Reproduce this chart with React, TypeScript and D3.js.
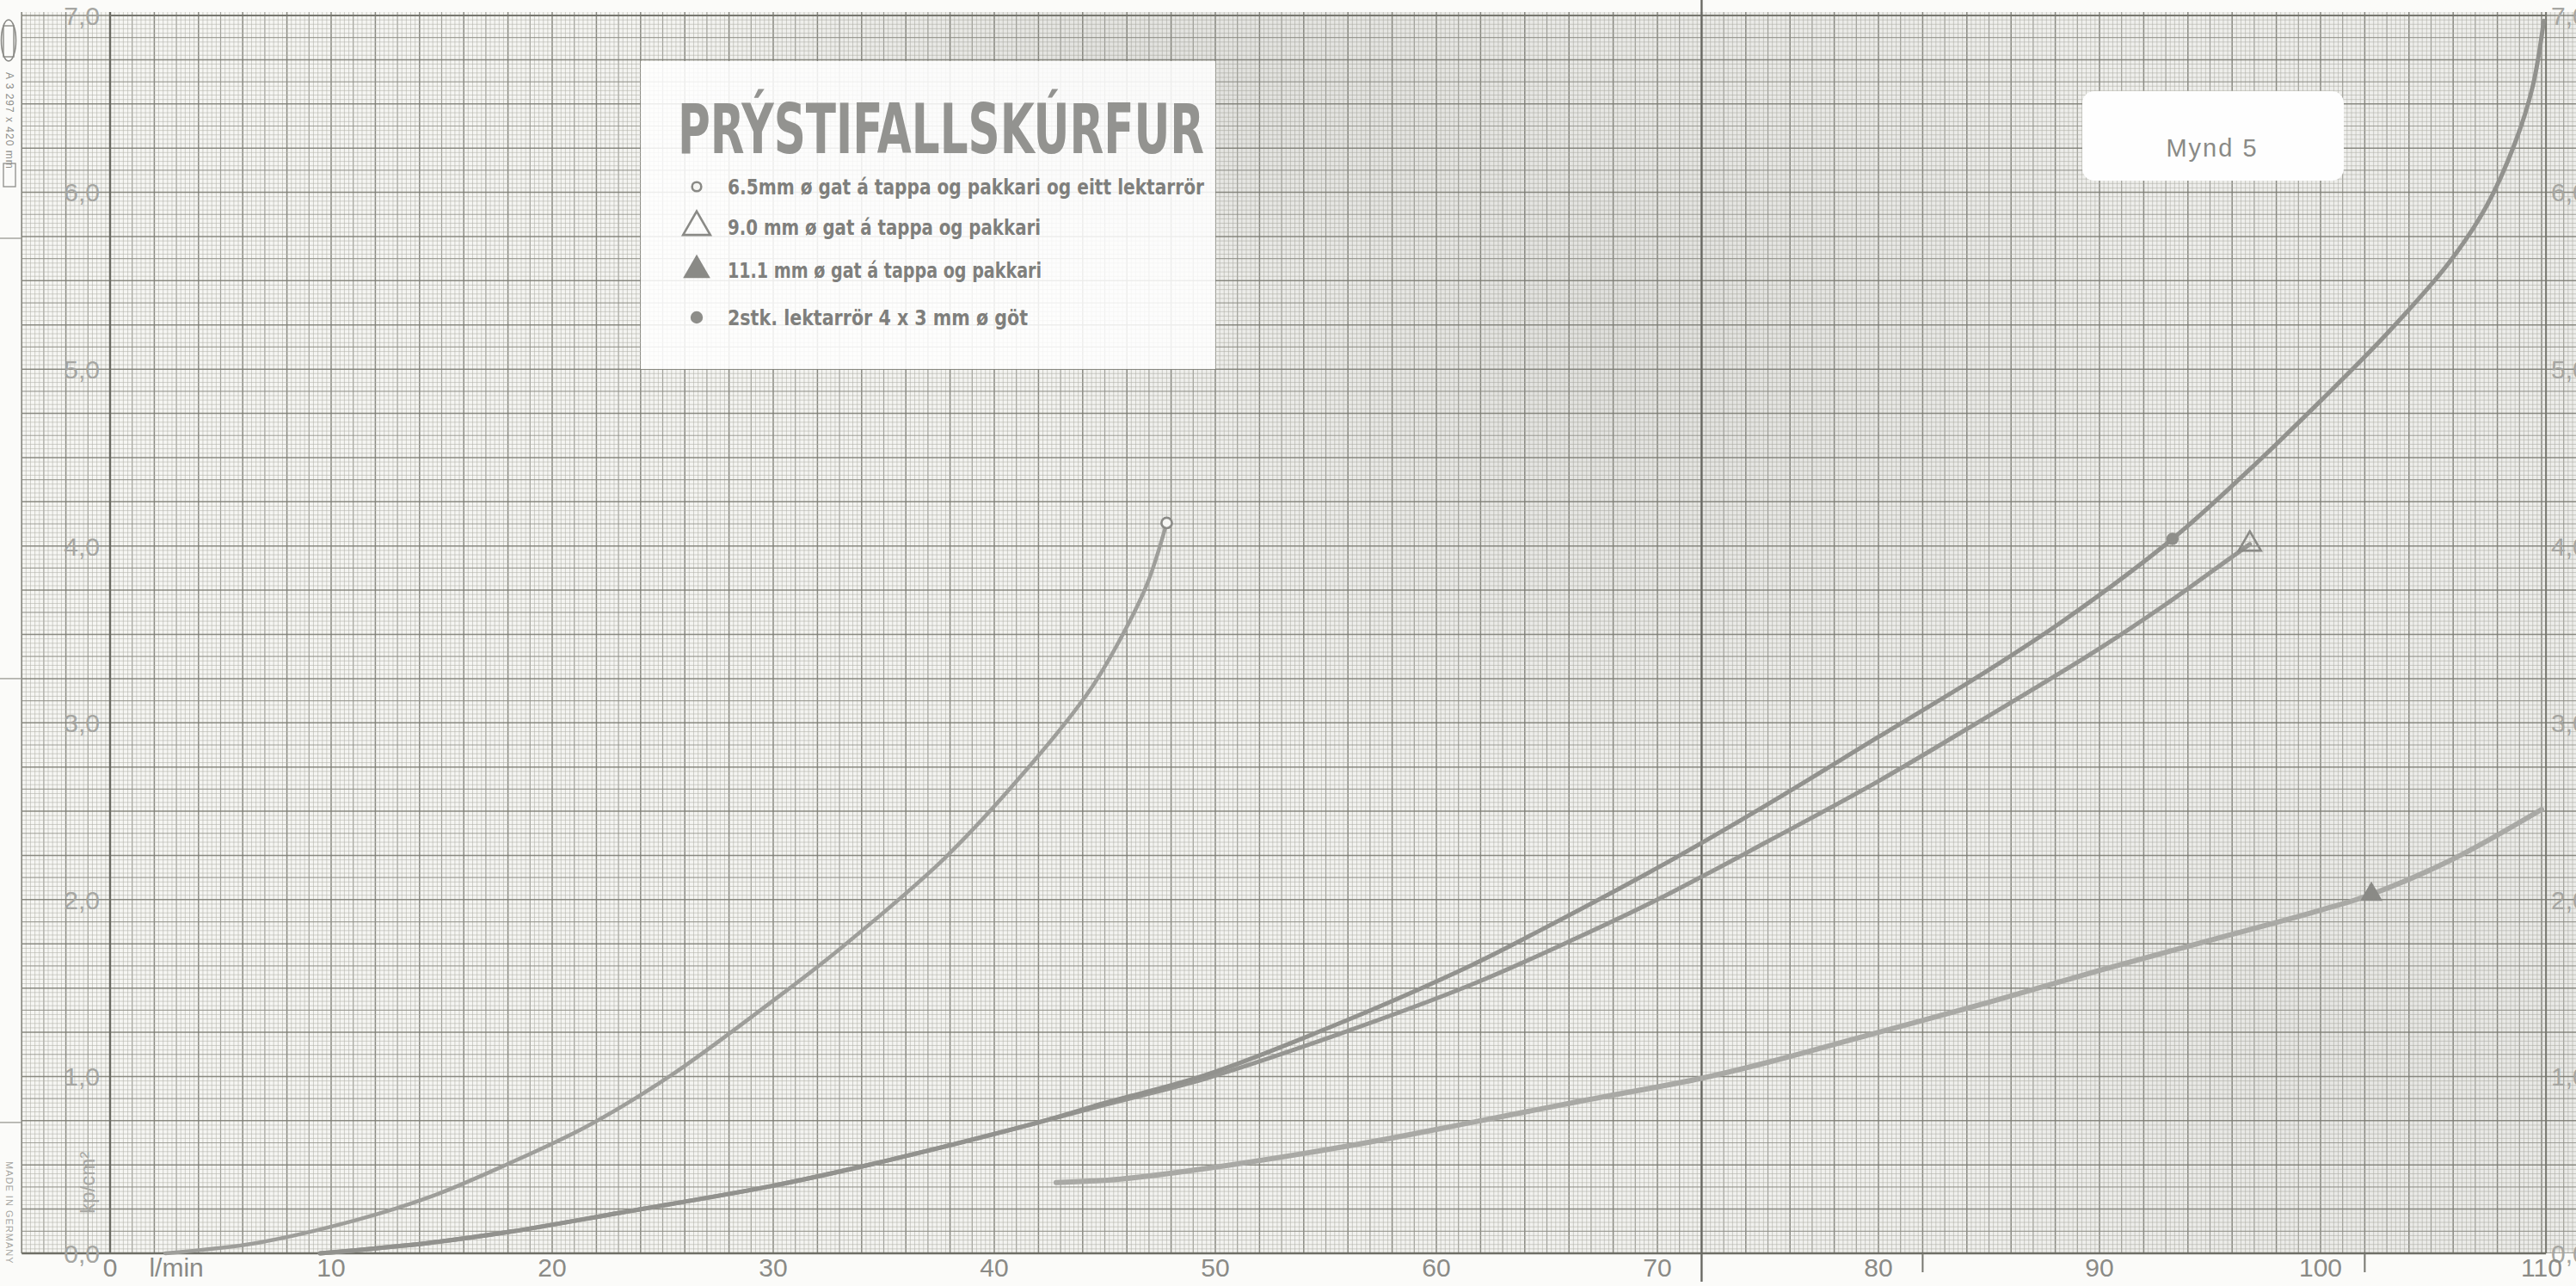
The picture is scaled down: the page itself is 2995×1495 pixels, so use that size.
import React from 'react';
import * as d3 from 'd3';

// ---------- data ----------
const xTickValues = [0, 10, 20, 30, 40, 50, 60, 70, 80, 90, 100, 110];
const xTickLabels = ['0', '10', '20', '30', '40', '50', '60', '70', '80', '90', '100', '110'];
const yTickValues = [0, 1, 2, 3, 4, 5, 6, 7];
const yTickLabels = ['0,0', '1,0', '2,0', '3,0', '4,0', '5,0', '6,0', '7,0'];
const xUnitLabel = 'l/min';
const yUnitLabel = 'kp/cm²';
const paperSeamX = 72;
const paperTicksX = [82, 102];
const marginMarksY = [0.74, 3.25, 5.74];

const title = 'PRÝSTIFALLSKÚRFUR';
const figureLabel = 'Mynd 5';
const legendLabels = [
  '6.5mm ø gat á tappa og pakkari og eitt lektarrör',
  '9.0 mm ø gat á tappa og pakkari',
  '11.1 mm ø gat á tappa  og pakkari',
  '2stk. lektarrör 4 x 3 mm ø göt',
];
const legendShapes = ['circleOpen', 'triangleOpen', 'triangleFilled', 'circleFilled'];

// 6.5 mm (open circle)
const curve65: [number, number][] = [
  [2.5, 0], [6.7, 0.06], [11.2, 0.19], [14.5, 0.32], [17.9, 0.5], [21.6, 0.72], [25.3, 1.0],
  [29.9, 1.42], [33, 1.72], [37.8, 2.24], [41.7, 2.77], [44.3, 3.18], [45.6, 3.45], [46.9, 3.78], [47.8, 4.13],
];
// 9.0 mm (open triangle)
const curve90: [number, number][] = [
  [9.5, 0], [14.5, 0.06], [18, 0.12], [23.1, 0.23], [29.9, 0.38], [35, 0.52], [41.7, 0.73], [45, 0.84],
  [49.6, 0.99], [55.6, 1.24], [61.6, 1.52], [66.3, 1.78], [70, 2.0], [75, 2.33], [80, 2.67], [85, 3.04],
  [90, 3.42], [93, 3.67], [95.9, 3.93], [96.8, 4.01],
];
// 11.1 mm (filled triangle)
const curve111: [number, number][] = [
  [42.8, 0.4], [45.7, 0.42], [50.7, 0.5], [56.6, 0.62], [61.6, 0.74], [66.5, 0.86], [72, 0.99], [75, 1.08],
  [80, 1.25], [85, 1.42], [90, 1.6], [95, 1.77], [100, 1.94], [102.3, 2.03], [106, 2.23], [110, 2.51],
];
// 2 stk. lektarrör (filled circle)
const curve2stk: [number, number][] = [
  [9.5, 0], [14.5, 0.06], [18, 0.12], [23.1, 0.23], [29.9, 0.38], [35, 0.52], [41.7, 0.73], [45, 0.85],
  [49.6, 1.01], [55.6, 1.3], [61.6, 1.63], [64.6, 1.82], [70, 2.18], [75, 2.54], [80, 2.92], [85, 3.3],
  [88.4, 3.58], [93.3, 4.04], [96.6, 4.41], [100, 4.82], [103, 5.2], [105.8, 5.6], [107.5, 5.92],
  [108.8, 6.28], [109.6, 6.6], [110.1, 6.97],
];
const markerPositions: [number, number][] = [[47.8, 4.13], [96.8, 4.01], [102.3, 2.03], [93.3, 4.04]];

// ---------- layout ----------
const W = 2995;
const H = 1495;
const x = d3.scaleLinear().domain([0, 110]).range([128, 2955]);
const y = d3.scaleLinear().domain([0, 7]).range([1457, 18]);

const PAPER = '#f6f6f3';

function marker(shape: string, cx: number, cy: number, s: number, key?: string) {
  if (shape === 'circleOpen')
    return <circle key={key} cx={cx} cy={cy} r={s * 0.38} fill="#f6f6f3" stroke="#8a8a86" strokeWidth={2.6} />;
  if (shape === 'circleFilled')
    return <circle key={key} cx={cx} cy={cy} r={s * 0.45} fill="#8e8e8a" />;
  const tri = d3.symbol().type(d3.symbolTriangle).size(s * s * 0.9)();
  if (shape === 'triangleOpen')
    return <path key={key} d={tri || ''} transform={`translate(${cx},${cy})`} fill="none" stroke="#8a8a86" strokeWidth={2.6} />;
  return <path key={key} d={tri || ''} transform={`translate(${cx},${cy})`} fill="#8a8a86" />;
}

export default function App() {
  // graph paper lines
  const vLines = d3.range(-20, 558).map((i) => ({ v: i * 0.2, k: i % 10 === 0 ? 2 : i % 5 === 0 ? 1 : 0 }));
  const hLines = d3.range(0, 281).map((j) => ({ v: j * 0.025, k: j % 10 === 0 ? 2 : j % 5 === 0 ? 1 : 0 }));
  const gx0 = x(-4);
  const gx1 = W;
  const gy0 = y(7.02);
  const gy1 = y(0);
  const styleFor = [
    { s: '#b4b4ac', w: 1, o: 0.6 },
    { s: '#93938b', w: 1.2, o: 0.85 },
    { s: '#7e7e76', w: 1.5, o: 0.9 },
  ];

  const line = d3
    .line<[number, number]>()
    .x((d) => x(d[0]))
    .y((d) => y(d[1]))
    .curve(d3.curveCatmullRom.alpha(0.5));

  const legendRowY = [217, 264, 314, 369];
  const legendTextEnd = [1400, 1210, 1211, 1195];

  return (
    <svg
      width={W}
      height={H}
      viewBox={`0 0 ${W} ${H}`}
      style={{ position: 'absolute', left: 0, top: 0, background: '#fbfbf9' }}
      fontFamily="'Liberation Sans', Arial, sans-serif"
    >
      <defs>
        <radialGradient id="shadeA">
          <stop offset="0%" stopColor="#6e6e68" stopOpacity={0.14} />
          <stop offset="100%" stopColor="#6e6e68" stopOpacity={0} />
        </radialGradient>
        <linearGradient id="shadeLR" x1="0" x2="1" y1="0" y2="0">
          <stop offset="0%" stopColor="#777" stopOpacity={0} />
          <stop offset="55%" stopColor="#777" stopOpacity={0.03} />
          <stop offset="100%" stopColor="#777" stopOpacity={0.07} />
        </linearGradient>
        <clipPath id="paperClip">
          <rect x={gx0} y={gy0} width={gx1 - gx0} height={gy1 - gy0} />
        </clipPath>
      </defs>

      {/* paper */}
      <rect x={gx0} y={gy0} width={gx1 - gx0} height={gy1 - gy0} fill={PAPER} />
      <g clipPath="url(#paperClip)">
        {vLines.map((l, i) => (
          <line key={'v' + i} x1={x(l.v)} x2={x(l.v)} y1={gy0} y2={gy1}
            stroke={styleFor[l.k].s} strokeWidth={styleFor[l.k].w} strokeOpacity={styleFor[l.k].o} />
        ))}
        {hLines.map((l, i) => (
          <line key={'h' + i} x1={gx0} x2={gx1} y1={y(l.v)} y2={y(l.v)}
            stroke={styleFor[l.k].s} strokeWidth={styleFor[l.k].w} strokeOpacity={styleFor[l.k].o} />
        ))}
        <rect x={gx0} y={gy0} width={gx1 - gx0} height={gy1 - gy0} fill="url(#shadeLR)" />
        <ellipse cx={x(68)} cy={y(5.2)} rx={650} ry={600} fill="url(#shadeA)" />
        <ellipse cx={x(46)} cy={y(6.7)} rx={550} ry={260} fill="url(#shadeA)" />
        <ellipse cx={x(100)} cy={y(1.2)} rx={500} ry={350} fill="url(#shadeA)" opacity={0.5} />
      </g>

      {/* borders and heavy lines */}
      <line x1={gx0} x2={gx0} y1={gy0} y2={gy1} stroke="#86867e" strokeWidth={1.6} />
      <line x1={x(0)} x2={x(0)} y1={gy0} y2={gy1} stroke="#6a6a62" strokeWidth={2.4} />
      <line x1={x(110.2)} x2={x(110.2)} y1={gy0} y2={gy1} stroke="#77776f" strokeWidth={2} />
      <line x1={x(0)} x2={x(110.2)} y1={y(7)} y2={y(7)} stroke="#77776f" strokeWidth={2.2} />
      <line x1={gx0} x2={x(110.2)} y1={y(0)} y2={y(0)} stroke="#6e6e66" strokeWidth={2.6} />
      <line x1={x(paperSeamX)} x2={x(paperSeamX)} y1={0} y2={1490} stroke="#6a6a64" strokeWidth={2.4} />
      {paperTicksX.map((v) => (
        <line key={'pt' + v} x1={x(v)} x2={x(v)} y1={y(0)} y2={1479} stroke="#77776f" strokeWidth={2} />
      ))}
      {marginMarksY.map((v) => (
        <line key={'mm' + v} x1={0} x2={gx0} y1={y(v)} y2={y(v)} stroke="#a0a09a" strokeWidth={1.4} />
      ))}

      {/* left margin print */}
      <ellipse cx={10} cy={47} rx={8.5} ry={24} fill="none" stroke="#8a8a86" strokeWidth={1.6} />
      <rect x={4} y={30} width={12} height={36} fill="none" stroke="#8a8a86" strokeWidth={1.4} />
      <text transform="translate(7,84) rotate(90)" fontSize={12} fill="#8e8e8a" letterSpacing={1}>
        A 3 297 x 420 mm
      </text>
      <rect x={4} y={190} width={14} height={27} fill="none" stroke="#8e8e8a" strokeWidth={1.3} />
      <text transform="translate(7,1350) rotate(90)" fontSize={11} fill="#a6a6a2" letterSpacing={1}>
        MADE IN GERMANY
      </text>

      {/* curves */}
      <path d={line(curve111) || ''} fill="none" stroke="#a9a9a5" strokeWidth={6} strokeLinecap="round" />
      <path d={line(curve90) || ''} fill="none" stroke="#969692" strokeWidth={5} strokeLinecap="round" />
      <path d={line(curve2stk) || ''} fill="none" stroke="#92928e" strokeWidth={5} strokeLinecap="round" />
      <path d={line(curve65) || ''} fill="none" stroke="#9e9e9a" strokeWidth={4.5} strokeLinecap="round" />

      {markerPositions.map((p, i) =>
        marker(legendShapes[i], x(p[0]), y(p[1]), i === 0 ? 16 : i === 3 ? 16 : 18, 'm' + i)
      )}

      {/* y labels */}
      {yTickValues.map((v, i) => (
        <text key={'yl' + i} x={116} y={y(v)} dy="0.36em" textAnchor="end" fontSize={30} fill="#a6a6a2">
          {yTickLabels[i]}
        </text>
      ))}
      {yTickValues.map((v, i) => (
        <text key={'yr' + i} x={2966} y={y(v)} dy="0.36em" textAnchor="start" fontSize={30} fill="#a6a6a2">
          {yTickLabels[i]}
        </text>
      ))}
      <text transform={`translate(${110},${y(0.4)}) rotate(-90)`} textAnchor="middle" fontSize={24} fill="#a8a8a4">
        {yUnitLabel}
      </text>

      {/* x labels */}
      {xTickValues.map((v, i) => (
        <text key={'xl' + i} x={x(v)} y={1484} textAnchor="middle" fontSize={30} fill="#8a8a86">
          {xTickLabels[i]}
        </text>
      ))}
      <text x={x(3)} y={1484} textAnchor="middle" fontSize={30} fill="#8a8a86">
        {xUnitLabel}
      </text>

      {/* legend */}
      <rect x={745} y={71} width={668} height={358} fill="#ffffff" fillOpacity={0.85} />
      <text x={788} y={178} fontSize={80} fontWeight="bold" fill="#939390"
        fontFamily="'DejaVu Sans Condensed', 'DejaVu Sans', sans-serif"
        textLength={612} lengthAdjust="spacingAndGlyphs">
        {title}
      </text>
      {legendLabels.map((t, i) => (
        <g key={'lg' + i}>
          {marker(legendShapes[i], 810, legendRowY[i], i === 0 ? 14 : i === 3 ? 16 : 22)}
          <text x={846} y={legendRowY[i] + 9} fontSize={25} fontWeight="bold" fill="#7f7f7c"
            fontFamily="'DejaVu Sans Condensed', 'DejaVu Sans', sans-serif"
            textLength={legendTextEnd[i] - 846} lengthAdjust="spacingAndGlyphs">
            {t}
          </text>
        </g>
      ))}

      {/* figure label */}
      <rect x={2421} y={106} width={304} height={104} rx={14} fill="#fefefe" />
      <text x={2572} y={182} textAnchor="middle" fontSize={29} fill="#8a8a86" letterSpacing={2}>
        {figureLabel}
      </text>
    </svg>
  );
}
